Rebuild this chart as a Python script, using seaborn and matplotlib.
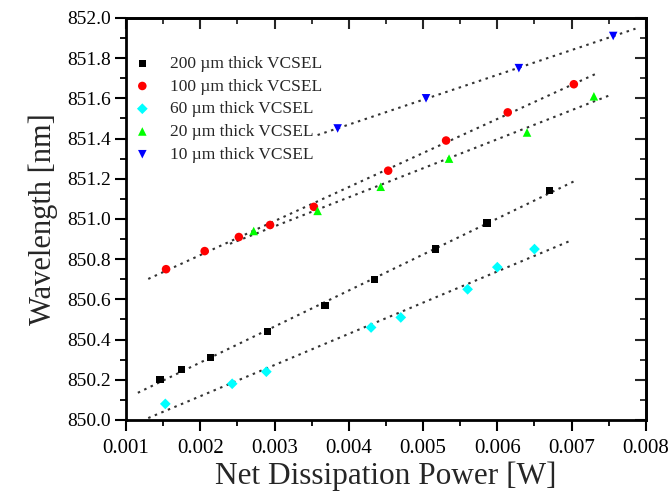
import numpy as np
import pandas as pd
import matplotlib
matplotlib.use("Agg")
import matplotlib.pyplot as plt
import seaborn as sns

# ---- data ----
labels = ["200 \u00b5m thick VCSEL", "100 \u00b5m thick VCSEL", "60 \u00b5m thick VCSEL",
          "20 \u00b5m thick VCSEL", "10 \u00b5m thick VCSEL"]

x200 = [0.00146, 0.00175, 0.00214, 0.00291, 0.00368, 0.00435, 0.00517, 0.00586, 0.00670]
y200 = [850.20, 850.25, 850.31, 850.44, 850.57, 850.70, 850.85, 850.98, 851.14]

x100 = [0.00154, 0.00206, 0.00252, 0.00294, 0.00353, 0.00453, 0.00531, 0.00614, 0.00703]
y100 = [850.75, 850.84, 850.91, 850.97, 851.06, 851.24, 851.39, 851.53, 851.67]

x60 = [0.00153, 0.00243, 0.00289, 0.00430, 0.00470, 0.00560, 0.00600, 0.00650]
y60 = [850.08, 850.18, 850.24, 850.46, 850.51, 850.65, 850.76, 850.85]

x20 = [0.00272, 0.00358, 0.00443, 0.00535, 0.00640, 0.00730]
y20 = [850.94, 851.04, 851.16, 851.30, 851.43, 851.61]

x10 = [0.00385, 0.00504, 0.00629, 0.00756]
y10 = [851.45, 851.60, 851.75, 851.91]

# x-range covered by each dotted fit line
fit_start = [0.00116, 0.00130, 0.00130, 0.00240, 0.00358]
fit_end = [0.00707, 0.00734, 0.00696, 0.00753, 0.00786]

xs = [x200, x100, x60, x20, x10]
ys = [y200, y100, y60, y20, y10]

colors = ["#000000", "#ff0000", "#00ffff", "#00ff00", "#0000ff"]
markers = ["s", "o", "D", "^", "v"]
sizes = [28, 38, 30, 38, 38]

rows = []
for lab, xx, yy in zip(labels, xs, ys):
    for a, b in zip(xx, yy):
        rows.append({"power": a, "wl": b, "series": lab})
df = pd.DataFrame(rows)

# ---- style ----
sns.set_style("ticks")
plt.rcParams["font.family"] = ["Liberation Serif", "DejaVu Serif"]

fig = plt.figure(figsize=(6.70, 4.97), dpi=100)
ax = fig.add_axes([0.188, 0.155, 0.776, 0.809])

# fit lines
for xx, yy, s, e in zip(xs, ys, fit_start, fit_end):
    k, b = np.polyfit(xx, yy, 1)
    lx = np.array([s, e])
    ax.plot(lx, k * lx + b, color="#333333", lw=1.5,
            linestyle=(0, (1.2, 2.2)), zorder=1)

for lab, c, m, sz in zip(labels, colors, markers, sizes):
    sub = df[df["series"] == lab]
    sns.scatterplot(data=sub, x="power", y="wl", ax=ax, color=c, marker=m,
                    s=sz, edgecolor="none", label=lab, zorder=3)

ax.set_xlim(0.001, 0.008)
ax.set_ylim(850.0, 852.0)
ax.set_xticks(np.arange(0.001, 0.0081, 0.001))
ax.set_xticklabels(["0.001", "0.002", "0.003", "0.004", "0.005", "0.006", "0.007", "0.008"])
ax.set_xticks(np.arange(0.0015, 0.008, 0.001), minor=True)
ax.set_yticks(np.arange(850.0, 852.01, 0.2))
ax.set_yticklabels([f"{v:.1f}" for v in np.arange(850.0, 852.01, 0.2)])
ax.set_yticks(np.arange(850.1, 852.0, 0.2), minor=True)

ax.tick_params(axis="both", which="major", direction="out", length=8, width=1.5,
               color="black", labelcolor="black")
ax.tick_params(axis="x", which="major", labelsize=15, pad=6)
ax.tick_params(axis="y", which="major", labelsize=14, pad=3)
ax.tick_params(axis="both", which="minor", direction="out", length=4.5, width=1.3,
               color="black")

for sp in ax.spines.values():
    sp.set_linewidth(2)
    sp.set_color("black")
    sp.set_visible(True)

# inward mirrored ticks on top and right
top = ax.secondary_xaxis("top")
top.set_xticks(np.arange(0.001, 0.0081, 0.001))
top.set_xticks(np.arange(0.0015, 0.008, 0.001), minor=True)
top.tick_params(which="major", direction="in", length=8, width=1.5, labeltop=False)
top.tick_params(which="minor", direction="in", length=4.5, width=1.3)
top.spines["top"].set_linewidth(2)
right = ax.secondary_yaxis("right")
right.set_yticks(np.arange(850.0, 852.01, 0.2))
right.set_yticks(np.arange(850.1, 852.0, 0.2), minor=True)
right.tick_params(which="major", direction="in", length=8, width=1.5, labelright=False)
right.tick_params(which="minor", direction="in", length=4.5, width=1.3)
right.spines["right"].set_linewidth(2)

ax.set_xlabel("Net Dissipation Power [W]", fontsize=22.5, labelpad=2)
ax.set_ylabel("Wavelength [nm]", fontsize=22, labelpad=6)

leg = ax.legend(loc="upper left", bbox_to_anchor=(-0.032, 0.945), frameon=False,
                fontsize=12.5, handletextpad=0.6, labelspacing=0.38,
                borderaxespad=0.5, markerscale=1.0)

fig.savefig("out.png", dpi=100)
